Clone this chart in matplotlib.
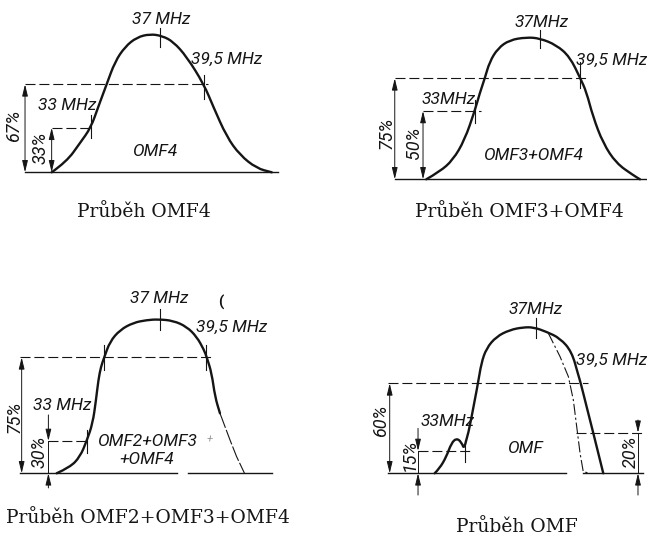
import matplotlib
matplotlib.use('Agg')
import matplotlib.pyplot as plt
from matplotlib.path import Path
from matplotlib.patches import PathPatch

# ---------------- data (frequency in MHz, response in % of peak) ----------------
markers_mhz = [33.0, 37.0, 39.5]
marker_labels = ['33 MHz', '37 MHz', '39,5 MHz']

# Panel 1: OMF4
omf4_f = [30.75, 31.61, 32.38, 33.00, 33.43, 33.91, 34.39, 34.97, 35.64, 36.40,
          37.11, 37.74, 38.51, 39.50, 40.04, 40.81, 41.57, 42.53, 43.40]
omf4_pct = [0, 7.7, 21.2, 32.2, 47.4, 63.6, 80.0, 90.8, 97.6, 100,
            98.6, 94.4, 83.6, 63.6, 47.4, 25.7, 12.5, 2.9, 0]
omf4_levels = [63.6, 32.2]
omf4_level_labels = ['67%', '33%']

# Panel 2: OMF3+OMF4
omf34_f = [30.02, 30.85, 31.66, 32.38, 33.00, 33.31, 33.62, 33.92, 34.43, 35.15, 36.18,
           37.00, 38.02, 38.85, 39.50, 39.87, 40.28, 40.90, 41.71, 42.74, 43.17]
omf34_pct = [0, 5.4, 13.6, 27.7, 48.1, 60.6, 71.1, 82.8, 92.3, 98.1, 100,
             99.3, 94.6, 86.3, 71.1, 61.7, 44.1, 25.4, 11.3, 3.0, 0]
omf34_levels = [71.1, 48.1]
omf34_level_labels = ['75%', '50%']

# Panel 3: OMF2+OMF3+OMF4
omf234_f = [31.36, 32.09, 32.64, 33.00, 33.33, 33.51, 33.64, 33.78, 33.96, 34.27, 34.82,
            35.55, 36.28, 36.91, 37.73, 38.46, 39.01, 39.41, 39.56, 39.83, 40.01, 40.28]
omf234_pct = [0, 3.9, 10.8, 21.0, 32.5, 47.6, 60.6, 69.2, 75.3, 85.5, 93.1,
              97.8, 99.5, 100, 99.1, 95.2, 88.7, 80.1, 75.3, 64.9, 49.7, 39.0]
omf234_tail_f = [40.28, 40.83, 41.19, 41.62]
omf234_tail_pct = [39.0, 21.6, 10.8, 0]
omf234_levels = [75.3, 21.0]
omf234_level_labels = ['75%', '30%']

# Panel 4: OMF (total)
omf_f = [31.29, 31.57, 31.95, 32.23, 32.51, 32.79, 33.00, 33.74, 33.92, 34.21, 34.77,
         35.53, 36.28, 36.88, 37.59, 38.37, 39.03, 39.40, 39.54, 39.87, 40.25, 40.53, 40.81]
omf_pct = [0, 3.4, 11.4, 20.5, 24.0, 21.6, 15.3, 61.6, 75.3, 85.6, 93.6,
           98.2, 100, 100, 97.0, 92.5, 83.3, 67.3, 61.6, 45.6, 27.4, 13.7, 0]
omf_alt_f = [37.71, 38.37, 38.84, 39.12, 39.31, 39.50, 39.68, 40.06]
omf_alt_pct = [95.9, 79.9, 66.2, 50.2, 31.9, 13.7, 1.1, 0]
omf_levels = [61.6, 15.3, 27.8]
omf_level_labels = ['60%', '15%', '20%']

captions = ['Průběh OMF4', 'Průběh OMF3+OMF4', 'Průběh OMF2+OMF3+OMF4', 'Průběh OMF']
curve_names = ['OMF4', 'OMF3+OMF4', 'OMF2+OMF3', '+OMF4', 'OMF']

# ---------------- drawing ----------------
W, H = 647, 536
fig = plt.figure(figsize=(W / 100, H / 100), dpi=100)
fig.patch.set_facecolor('white')

INK = '#151515'
LETTER = dict(family=['Roboto', 'DejaVu Sans'], style='italic', color=INK)
CAPTION = dict(family=['DejaVu Serif'], color=INK, fontsize=13.5)
DASH = (0, (9, 3.5))
CURVE_LW = 1.7
THIN = 0.8
MHZ_SIZE = 12.5
PCT_SIZE = 13
NAME_SIZE = 12.5


def panel_axes(x37, px_per_mhz, base_y, px_per_pct):
    ax = fig.add_axes([0, 0, 1, 1])
    ax.set_xlim(37 - x37 / px_per_mhz, 37 + (W - x37) / px_per_mhz)
    ax.set_ylim(-(H - base_y) / px_per_pct, base_y / px_per_pct)
    ax.axis('off')
    ax.patch.set_alpha(0)
    return ax


def smooth_curve(ax, xs, ys, **kw):
    """Draw a smooth quadratic-Bezier path through the sampled points."""
    verts = [(xs[0], ys[0])]
    codes = [Path.MOVETO]
    for i in range(1, len(xs) - 1):
        verts.append((xs[i], ys[i]))
        verts.append(((xs[i] + xs[i + 1]) / 2, (ys[i] + ys[i + 1]) / 2))
        codes += [Path.CURVE3, Path.CURVE3]
    verts.append((xs[-1], ys[-1]))
    codes.append(Path.LINETO)
    patch = PathPatch(Path(verts, codes), fill=False, edgecolor=INK,
                      joinstyle='round', capstyle='round', **kw)
    ax.add_patch(patch)


def ftext(px, py, s, size=MHZ_SIZE, rot=0, ha='center', va='center', **kw):
    props = dict(LETTER)
    props.update(kw)
    fig.text(px / W, 1 - py / H, s, fontsize=size, rotation=rot, ha=ha, va=va, **props)


def caption(px, py, s):
    fig.text(px / W, 1 - py / H, s, ha='center', va='center', **CAPTION)


def hdash(ax, f0, f1, lvl):
    ax.plot([f0, f1], [lvl, lvl], color=INK, lw=THIN, ls=DASH)


def vtick(ax, f, p0, p1):
    ax.plot([f, f], [p0, p1], color=INK, lw=THIN)


def dim_inside(ax, f, lvl):
    ax.annotate('', xy=(f, lvl), xytext=(f, 0),
                arrowprops=dict(arrowstyle='<|-|>,head_length=0.7,head_width=0.17',
                                lw=0.7, color=INK, shrinkA=0, shrinkB=0, mutation_scale=10))


def dim_outside(ax, f, lvl, top, bottom):
    ap = dict(arrowstyle='-|>,head_length=0.7,head_width=0.17', lw=0.7, color=INK,
              shrinkA=0, shrinkB=0, mutation_scale=10)
    ax.annotate('', xy=(f, lvl), xytext=(f, top), arrowprops=ap)
    ax.annotate('', xy=(f, 0), xytext=(f, bottom), arrowprops=ap)
    ax.plot([f, f], [lvl, 0], color=INK, lw=0.7)


def baseline(ax, f0, f1):
    ax.plot([f0, f1], [0, 0], color=INK, lw=1.0)


# ---- Panel 1 ----
ax1 = panel_axes(160.4, 17.4, 172.3, 1.383)
baseline(ax1, 29.22, 43.76)
smooth_curve(ax1, omf4_f, omf4_pct, lw=CURVE_LW)
hdash(ax1, 29.22, 39.74, omf4_levels[0])
hdash(ax1, 30.75, markers_mhz[0], omf4_levels[1])
dim_inside(ax1, 29.22, omf4_levels[0])
dim_inside(ax1, 30.75, omf4_levels[1])
vtick(ax1, markers_mhz[0], 24.7, 41.4)
vtick(ax1, markers_mhz[1], 90.6, 104.3)
vtick(ax1, markers_mhz[2], 53.0, 70.4)
ftext(161.5, 20, marker_labels[1])
ftext(226.5, 59, marker_labels[2])
ftext(67.5, 106, marker_labels[0])
ftext(14, 126, omf4_level_labels[0], size=PCT_SIZE, rot=90)
ftext(41, 148, omf4_level_labels[1], size=PCT_SIZE, rot=90)
ftext(155, 152, curve_names[0], size=NAME_SIZE)
caption(143.5, 211.7, captions[0])

# ---- Panel 2 ----
ax2 = panel_axes(539.7, 16.25, 179.3, 1.42)
baseline(ax2, 28.08, 43.54)
smooth_curve(ax2, omf34_f, omf34_pct, lw=CURVE_LW)
hdash(ax2, 28.08, 39.97, omf34_levels[0])
hdash(ax2, 29.82, 33.41, omf34_levels[1])
dim_inside(ax2, 28.08, omf34_levels[0])
dim_inside(ax2, 29.82, omf34_levels[1])
vtick(ax2, markers_mhz[0], 39.6, 55.8)
vtick(ax2, markers_mhz[1], 92.7, 105.1)
vtick(ax2, markers_mhz[2], 64.3, 82.6)
ftext(542, 22.7, marker_labels[1].replace(' ', ''))
ftext(612, 60, marker_labels[2])
ftext(449, 99, marker_labels[0].replace(' ', ''))
ftext(387, 133, omf34_level_labels[0], size=PCT_SIZE, rot=90)
ftext(414, 143, omf34_level_labels[1], size=PCT_SIZE, rot=90)
ftext(533, 155, curve_names[1], size=NAME_SIZE)
caption(519, 211.7, captions[1])

# ---- Panel 3 ----
ax3 = panel_axes(159.9, 18.31, 473.3, 1.54)
baseline(ax3, 29.36, 37.92)
baseline(ax3, 38.55, 43.11)
smooth_curve(ax3, omf234_f, omf234_pct, lw=CURVE_LW)
ax3.plot(omf234_tail_f, omf234_tail_pct, color=INK, lw=0.8, ls=(0, (14, 2)))
hdash(ax3, 29.36, 39.92, omf234_levels[0])
hdash(ax3, 30.91, markers_mhz[0], omf234_levels[1])
dim_inside(ax3, 29.45, omf234_levels[0])
dim_outside(ax3, 30.91, omf234_levels[1], 37.9, -9.5)
vtick(ax3, markers_mhz[0], 13.0, 28.1)
vtick(ax3, markers_mhz[1], 93.1, 106.5)
vtick(ax3, 33.96, 67.1, 83.3)
vtick(ax3, markers_mhz[2], 67.1, 83.3)
ftext(159, 298.3, marker_labels[1])
ftext(231.7, 327.3, marker_labels[2])
ftext(61.7, 406, marker_labels[0])
ftext(15, 416.7, omf234_level_labels[0], size=PCT_SIZE, rot=90)
ftext(40, 452, omf234_level_labels[1], size=PCT_SIZE, rot=90)
ftext(96.7, 441.7, curve_names[2], size=NAME_SIZE, ha='left')
ftext(210, 440, '+', size=8, color='#999999')
ftext(146.5, 460, curve_names[3], size=NAME_SIZE)
ftext(221, 302, '(', size=11, style='normal', weight='bold')
caption(147.5, 518.3, captions[2])

# ---- Panel 4 ----
ax4 = panel_axes(535.8, 17.71, 473.3, 1.46)
baseline(ax4, 28.65, 38.7)
baseline(ax4, 39.68, 43.05)
smooth_curve(ax4, omf_f, omf_pct, lw=CURVE_LW)
ax4.plot(omf_alt_f, omf_alt_pct, color=INK, lw=0.8, ls=(0, (10, 2.5, 2, 2.5)))
hdash(ax4, 28.65, 39.95, omf_levels[0])
hdash(ax4, 30.35, 33.45, omf_levels[1])
hdash(ax4, 39.29, 43.05, omf_levels[2])
dim_inside(ax4, 28.75, omf_levels[0])
dim_outside(ax4, 30.35, omf_levels[1], 30.8, -14.9)
dim_outside(ax4, 42.77, omf_levels[2], 36.5, -14.9)
vtick(ax4, markers_mhz[0], 7.9, 22.8)
vtick(ax4, markers_mhz[1], 92.5, 106.2)
ftext(536, 309.3, marker_labels[1].replace(' ', ''))
ftext(612, 360, marker_labels[2])
ftext(448, 421.7, marker_labels[0].replace(' ', ''))
ftext(381, 421, omf_level_labels[0], size=PCT_SIZE, rot=90)
ftext(410, 455, omf_level_labels[1], size=PCT_SIZE, rot=90)
ftext(631, 452, omf_level_labels[2], size=PCT_SIZE, rot=90)
ftext(525, 448.3, curve_names[4], size=NAME_SIZE)
caption(517, 526.7, captions[3])

fig.savefig('out.png', dpi=100, facecolor='white')
